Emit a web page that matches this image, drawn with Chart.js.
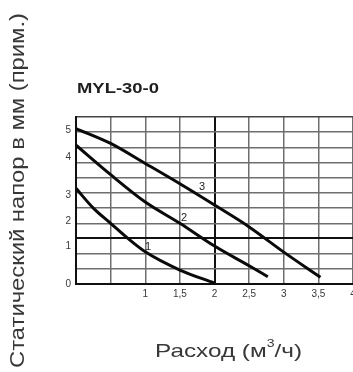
<!DOCTYPE html>
<html>
<head>
<meta charset="utf-8">
<script src="https://cdn.jsdelivr.net/npm/chart.js@4"></script>
<style>
  html, body { margin: 0; padding: 0; background: #fff; overflow: hidden; }
</style>
</head>
<body>
<canvas id="pumpChart" width="353" height="372"></canvas>
<script>
// values
const curve1X = [0, 0.25, 0.5, 0.75, 1, 1.5, 2];
const curve1Y = [3.15, 2.5, 2.0, 1.5, 1.06, 0.46, 0.03];
const curve2X = [0, 0.5, 1, 1.5, 2, 2.5, 2.77];
const curve2Y = [4.57, 3.6, 2.7, 2.0, 1.25, 0.6, 0.24];
const curve3X = [0, 0.5, 1, 1.5, 2, 2.5, 3, 3.53];
const curve3Y = [5.12, 4.63, 3.97, 3.3, 2.6, 1.88, 1.05, 0.22];

const curveNames = ['1', '2', '3'];
const curveNameX = [1.04, 1.56, 1.82];
const curveNameY = [1.22, 2.17, 3.19];

const xGridValues = [0, 0.5, 1, 1.5, 2, 2.5, 3, 3.5, 4];
const xTickValues = [1, 1.5, 2, 2.5, 3, 3.5, 4];
const xTickLabels = ['1', '1,5', '2', '2,5', '3', '3,5', '4'];

const yGridValues = [0, 0.5, 1, 1.5, 2, 2.5, 3, 3.5, 4, 4.5, 5, 5.5];
// the sheet prints its head labels a little off the grid lines
const yTickValues = [0, 1.23, 2.07, 2.93, 4.19, 5.07];
const yTickLabels = ['0', '1', '2', '3', '4', '5'];

const FONT = "'Liberation Sans', Arial, sans-serif";
const near = (a, b) => Math.abs(a - b) < 1e-6;

function toPoints(xs, ys) {
    return xs.map((x, i) => ({ x: x, y: ys[i] }));
}

function curve(xs, ys) {
    return {
        data: toPoints(xs, ys),
        showLine: true,
        borderColor: '#0a0a0a',
        borderWidth: 3,
        pointRadius: 0,
        cubicInterpolationMode: 'monotone',
        fill: false
    };
}

function stretched(ctx, parts, x, y, targetW) {
    // parts: [{text, font, dy}]
    let total = 0;
    parts.forEach(p => { ctx.font = p.font; p.w = ctx.measureText(p.text).width; total += p.w; });
    ctx.save();
    ctx.translate(x, y);
    ctx.scale(targetW / total, 1);
    let cx = 0;
    parts.forEach(p => {
        ctx.font = p.font;
        ctx.fillText(p.text, cx, p.dy || 0);
        cx += p.w;
    });
    ctx.restore();
}

const textPlugin = {
    id: 'sheetText',
    afterDraw(chart) {
        const ctx = chart.ctx;
        const xs = chart.scales.x, ys = chart.scales.y;
        ctx.save();
        ctx.textAlign = 'left';
        ctx.textBaseline = 'alphabetic';

        // model name
        ctx.fillStyle = '#1e1e1e';
        stretched(ctx, [{ text: 'MYL-30-0', font: 'bold 15px ' + FONT }], 77, 93, 82);

        // y axis title, rotated
        ctx.fillStyle = '#383838';
        ctx.save();
        ctx.translate(24, 368);
        ctx.rotate(-Math.PI / 2);
        stretched(ctx, [{ text: 'Статический напор в мм (прим.)', font: '20px ' + FONT }], 0, 0, 355);
        ctx.restore();

        // x axis title
        stretched(ctx, [
            { text: 'Расход (м', font: '19px ' + FONT },
            { text: '3', font: '11px ' + FONT, dy: -10 },
            { text: '/ч)', font: '19px ' + FONT }
        ], 155, 357, 147);

        // curve numbers
        ctx.fillStyle = '#222';
        ctx.font = '11px ' + FONT;
        ctx.textAlign = 'center';
        ctx.textBaseline = 'middle';
        curveNames.forEach((n, i) => {
            ctx.fillText(n, xs.getPixelForValue(curveNameX[i]), ys.getPixelForValue(curveNameY[i]));
        });
        ctx.restore();
    }
};

new Chart(document.getElementById('pumpChart').getContext('2d'), {
    type: 'scatter',
    data: {
        datasets: [curve(curve1X, curve1Y), curve(curve2X, curve2Y), curve(curve3X, curve3Y)]
    },
    options: {
        responsive: false,
        animation: false,
        devicePixelRatio: 1,
        layout: { padding: { top: 117, left: 0, right: 0, bottom: 0 } },
        plugins: { legend: { display: false }, tooltip: { enabled: false }, title: { display: false } },
        scales: {
            x: {
                type: 'linear', min: 0, max: 4,
                afterBuildTicks: s => { s.ticks = xGridValues.map(v => ({ value: v })); },
                afterFit: s => { s.height = 88; s.paddingLeft = 0; s.paddingRight = 0; },
                border: { display: true, color: '#111', width: 2 },
                grid: {
                    drawTicks: false,
                    color: c => near(c.tick.value, 2) ? '#111' : '#6e6e6e',
                    lineWidth: c => near(c.tick.value, 2) ? 2 : 1.5
                },
                ticks: {
                    padding: 4, autoSkip: false, maxRotation: 0, color: '#3a3a3a',
                    font: { size: 10, family: FONT },
                    callback: v => {
                        const i = xTickValues.findIndex(t => near(t, v));
                        return i >= 0 ? xTickLabels[i] : '';
                    }
                }
            },
            y: {
                type: 'linear', min: 0, max: 5.5,
                afterBuildTicks: s => {
                    const all = yGridValues.slice();
                    yTickValues.forEach(v => { if (!all.some(g => near(g, v))) all.push(v); });
                    all.sort((a, b) => a - b);
                    s.ticks = all.map(v => ({ value: v }));
                },
                afterFit: s => { s.width = 76; s.paddingTop = 0; s.paddingBottom = 0; },
                border: { display: true, color: '#111', width: 2 },
                grid: {
                    drawTicks: false,
                    color: c => {
                        const v = c.tick.value;
                        if (!yGridValues.some(g => near(g, v))) return 'rgba(0,0,0,0)';
                        if (near(v, 1.5)) return '#111';
                        if (near(v, 5.5)) return '#444';
                        return '#6e6e6e';
                    },
                    lineWidth: c => near(c.tick.value, 1.5) ? 2 : 1.5
                },
                ticks: {
                    padding: 5, autoSkip: false, color: '#3a3a3a',
                    font: { size: 10, family: FONT },
                    callback: v => {
                        const i = yTickValues.findIndex(t => near(t, v));
                        return i >= 0 ? yTickLabels[i] : '';
                    }
                }
            }
        }
    },
    plugins: [textPlugin]
});
</script>
</body>
</html>
